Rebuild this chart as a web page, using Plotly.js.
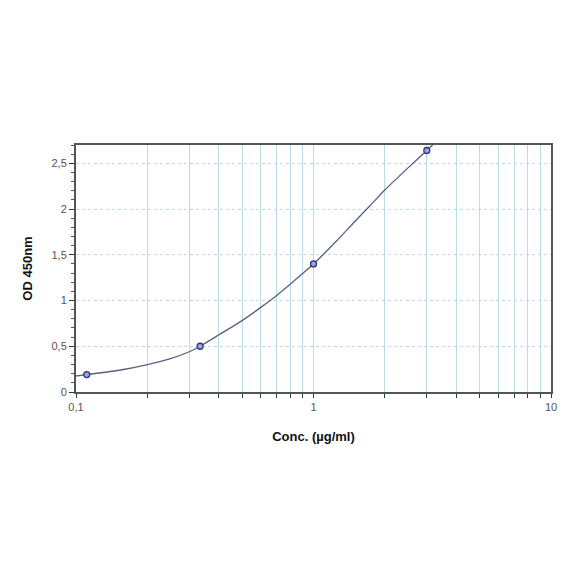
<!DOCTYPE html>
<html>
<head>
<meta charset="utf-8">
<script src="https://cdn.plot.ly/plotly-3.0.1.min.js"></script>
<style>html,body{margin:0;padding:0;background:#fff;}#chart{width:584px;height:584px;}</style>
</head>
<body>
<div id="chart"></div>
<script>
// Standard points
const stdConc = [0.111, 0.333, 1, 3];
const stdOD = [0.19, 0.50, 1.40, 2.64];
// Fitted curve
const curveConc = [0.1, 0.111, 0.15, 0.2, 0.25, 0.3, 0.333, 0.4, 0.5, 0.6, 0.7, 0.8, 0.9, 1, 1.25, 1.5, 1.75, 2, 2.5, 3, 3.2];
const curveOD = [0.175, 0.19, 0.235, 0.30, 0.365, 0.44, 0.50, 0.625, 0.78, 0.925, 1.055, 1.18, 1.295, 1.40, 1.65, 1.87, 2.05, 2.21, 2.45, 2.64, 2.71];
// Tick labels
const xTickVals = [0.1,0.2,0.3,0.4,0.5,0.6,0.7,0.8,0.9,1,2,3,4,5,6,7,8,9,10];
const xTickText = ["0,1","","","","","","","","","1","","","","","","","","","10"];
const yTickVals = [0, 0.5, 1, 1.5, 2, 2.5];
const yTickText = ["0", "0,5", "1", "1,5", "2", "2,5"];

const traces = [
  {x: curveConc, y: curveOD, mode: 'lines', type: 'scatter',
   line: {color: '#5a5f80', width: 1.3, shape: 'spline', smoothing: 0.6},
   hoverinfo: 'skip', showlegend: false},
  {x: stdConc, y: stdOD, mode: 'markers', type: 'scatter',
   marker: {size: 6, color: '#9aa6d6', line: {color: '#2e3580', width: 1.3}},
   showlegend: false, cliponaxis: false}
];

const layout = {
  width: 584, height: 584,
  margin: {l: 76, r: 33, t: 145, b: 192, pad: 0},
  paper_bgcolor: '#fff', plot_bgcolor: '#fff',
  font: {family: 'Liberation Sans, Arial, sans-serif', color: '#555'},
  xaxis: {
    type: 'log', range: [-1, 1],
    tickvals: xTickVals, ticktext: xTickText,
    ticks: 'outside', ticklen: 4, tickcolor: '#333', tickwidth: 1,
    showgrid: true, gridcolor: '#b9dde2', gridwidth: 1,
    showline: true, linecolor: '#555', linewidth: 2, mirror: true,
    zeroline: false,
    tickfont: {size: 11, color: '#555'},
    title: {text: '<b>Conc. (µg/ml)</b>', font: {size: 13, color: '#111'}, standoff: 20}
  },
  yaxis: {
    range: [0, 2.7],
    tickvals: yTickVals, ticktext: yTickText,
    ticks: 'outside', ticklen: 5, tickcolor: '#333', tickwidth: 1,
    minor: {dtick: 0.1, ticks: 'outside', ticklen: 3, tickcolor: '#555', showgrid: false},
    showgrid: true, gridcolor: '#b9dde2', gridwidth: 1, griddash: 'dot',
    showline: true, linecolor: '#555', linewidth: 2, mirror: true,
    zeroline: false,
    tickfont: {size: 11, color: '#555'},
    title: {text: '<b>OD 450nm</b>', font: {size: 13, color: '#111'}, standoff: 16}
  }
};

Plotly.newPlot('chart', traces, layout, {displayModeBar: false, staticPlot: true});
</script>
</body>
</html>
